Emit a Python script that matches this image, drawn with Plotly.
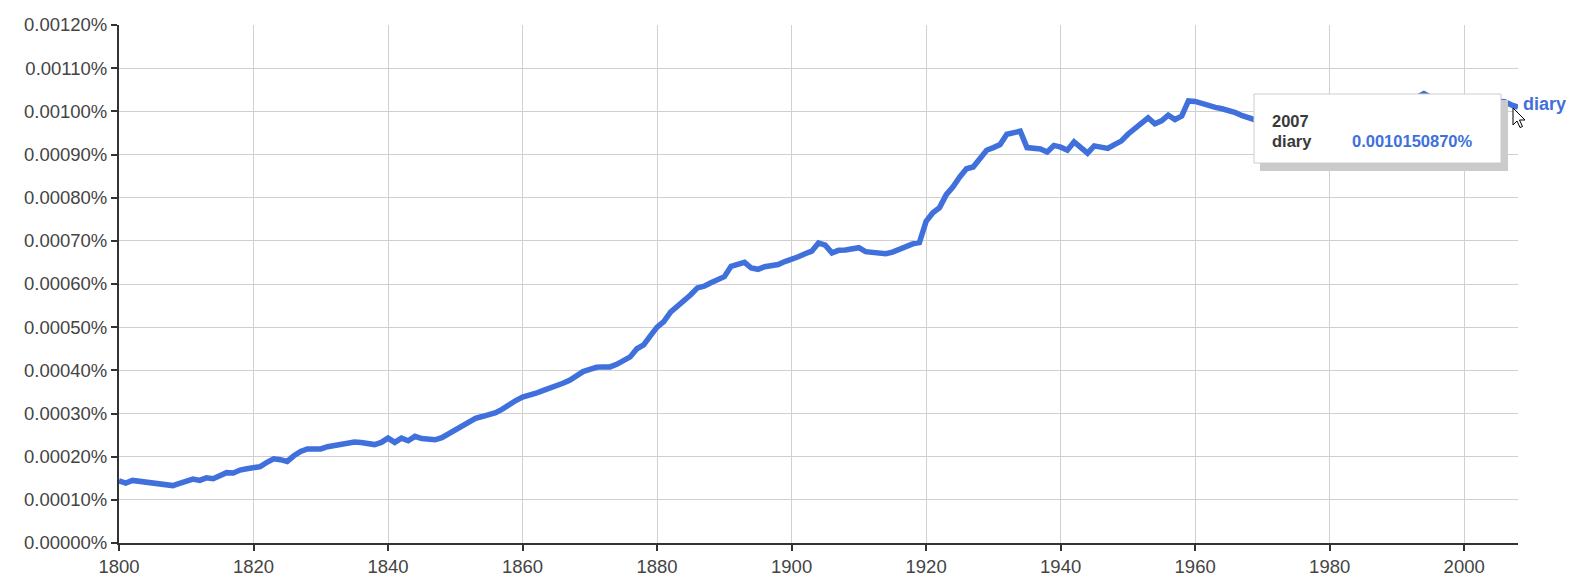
import plotly.graph_objects as go

# ---- data (values in percent) ----
years = list(range(1800, 2009))
u = [  # in units of 0.0001 %
    1.44, 1.39, 1.45, 1.43, 1.40, 1.37, 1.36, 1.35, 1.33, 1.38,   # 1800-1809
    1.44, 1.48, 1.45, 1.51, 1.49, 1.55, 1.63, 1.62, 1.69, 1.72,   # 1810-1819
    1.76, 1.77, 1.87, 1.95, 1.93, 1.89, 2.02, 2.12, 2.18, 2.19,   # 1820-1829
    2.18, 2.23, 2.26, 2.30, 2.32, 2.34, 2.33, 2.29, 2.28, 2.33,   # 1830-1839
    2.43, 2.33, 2.43, 2.37, 2.47, 2.42, 2.40, 2.39, 2.44, 2.53,   # 1840-1849
    2.62, 2.73, 2.82, 2.89, 2.93, 2.97, 3.02, 3.10, 3.22, 3.30,   # 1850-1859
    3.38, 3.41, 3.47, 3.53, 3.58, 3.63, 3.70, 3.77, 3.86, 3.97,   # 1860-1869
    4.02, 4.07, 4.08, 4.08, 4.14, 4.22, 4.31, 4.50, 4.59, 4.80,   # 1870-1879
    5.00, 5.13, 5.35, 5.48, 5.60, 5.75, 5.91, 5.95, 6.03, 6.10,   # 1880-1889
    6.17, 6.41, 6.46, 6.50, 6.37, 6.34, 6.40, 6.43, 6.45, 6.52,   # 1890-1899
    6.56, 6.63, 6.70, 6.76, 6.95, 6.90, 6.72, 6.78, 6.79, 6.80,   # 1900-1909
    6.84, 6.75, 6.73, 6.71, 6.70, 6.74, 6.80, 6.88, 6.93, 6.96,   # 1910-1919
    7.45, 7.65, 7.77, 8.07, 8.25, 8.48, 8.67, 8.71, 8.93, 9.10,   # 1920-1929
    9.16, 9.23, 9.47, 9.52, 9.54, 9.16, 9.14, 9.13, 9.06, 9.21,   # 1930-1939
    9.17, 9.10, 9.29, 9.16, 9.03, 9.20, 9.17, 9.14, 9.23, 9.31,   # 1940-1949
    9.47, 9.60, 9.70, 9.85, 9.71, 9.78, 9.91, 9.81, 9.89, 10.24,  # 1950-1959
    10.23, 10.18, 10.12, 10.09, 10.06, 10.03, 9.97, 9.90, 9.84, 9.80,  # 1960-1969
    9.78, 9.76, 9.74, 9.73, 9.74, 9.76, 9.79, 9.83, 9.87, 9.92,   # 1970-1979
    9.97, 10.02, 10.07, 10.11, 10.15, 10.19, 10.22, 10.25, 10.27, 10.28,  # 1980-1989
    10.29, 10.30, 10.31, 10.33, 10.41, 10.33, 10.31, 10.30, 10.29, 10.28,  # 1990-1999
    10.28, 10.27, 10.27, 10.26, 10.25, 10.24, 10.22, 10.150870, 10.10,    # 2000-2008
]
values = [v * 1e-4 for v in u]
series_name = "diary"
x_ticks = list(range(1800, 2001, 20))
y_ticks = [i * 1e-4 for i in range(0, 13)]

LINE = "#4070DC"
OFF = 8                      # page body margin of the browser
W, H = 1574 - OFF, 578 - OFF
ML, MR, MT, MB = 119 - OFF, 56, 25 - OFF, 35
PW, PH = W - ML - MR, H - MT - MB
X0, Y1 = ML + OFF, H + OFF - MB   # screen pixel of plot left / bottom


def px(xp):
    return (xp - X0) / PW


def py(yp):
    return (Y1 - yp) / PH


fig = go.Figure()
fig.add_trace(go.Scatter(
    x=years, y=values, mode="lines", name=series_name,
    line=dict(color=LINE, width=5.5, shape="linear"),
    hoverinfo="skip",
))

shapes = []
# tooltip shadow
shapes.append(dict(type="rect", xref="paper", yref="paper", layer="above",
                   x0=px(1260), x1=px(1508), y0=py(171), y1=py(100),
                   fillcolor="#cbcbcb", line=dict(width=0)))
# tooltip box
shapes.append(dict(type="rect", xref="paper", yref="paper", layer="above",
                   x0=px(1254), x1=px(1501), y0=py(163), y1=py(94),
                   fillcolor="white", line=dict(color="#cccccc", width=1)))
# mouse cursor
tip = (1513, 108)
pts = [(0, 0), (0, 17), (4, 13), (7, 19.5), (9.5, 18.5), (6.5, 12), (12, 12)]
path = "M " + " L ".join(f"{px(tip[0] + a):.5f},{py(tip[1] + b):.5f}" for a, b in pts) + " Z"
shapes.append(dict(type="path", xref="paper", yref="paper", layer="above",
                   path=path, fillcolor="white", line=dict(color="black", width=1)))

font_tt = dict(family="Liberation Sans, Arial, sans-serif", size=16.5, color="#3a3a3a")
annotations = [
    dict(xref="paper", yref="paper", x=px(1270), y=py(121), xanchor="left", yanchor="middle",
         text="<b>2007</b>", showarrow=False, font=font_tt),
    dict(xref="paper", yref="paper", x=px(1270), y=py(141), xanchor="left", yanchor="middle",
         text=f"<b>{series_name}</b>", showarrow=False, font=font_tt),
    dict(xref="paper", yref="paper", x=px(1350), y=py(141), xanchor="left", yanchor="middle",
         text=f"<b>{values[years.index(2007)]:.10f}%</b>", showarrow=False,
         font=dict(family="Liberation Sans, Arial, sans-serif", size=16.5, color=LINE)),
    dict(x=years[-1], y=values[-1], xref="x", yref="y", xanchor="left", yanchor="middle",
         xshift=3, yshift=3, text=f"<b>{series_name}</b>", showarrow=False,
         font=dict(family="Liberation Sans, Arial, sans-serif", size=18, color=LINE)),
]

axis_common = dict(
    showgrid=True, gridcolor="#d0d0d0", gridwidth=1,
    showline=True, linecolor="#333333", linewidth=2,
    ticks="outside", ticklen=6, tickwidth=2, tickcolor="#333333",
    zeroline=False, automargin=False,
    tickfont=dict(family="Liberation Sans, Arial, sans-serif", size=18.5, color="#444444"),
)

fig.update_layout(
    width=W, height=H,
    margin=dict(l=ML, r=MR, t=MT, b=MB, autoexpand=False),
    paper_bgcolor="white", plot_bgcolor="white",
    showlegend=False,
    xaxis=dict(range=[1800, 2008], tickmode="array", tickvals=x_ticks,
               ticktext=[str(t) for t in x_ticks], **axis_common),
    yaxis=dict(range=[0, 0.0012], tickmode="array", tickvals=y_ticks,
               ticktext=[f"{t:.5f}%" for t in y_ticks], **axis_common),
    shapes=shapes,
    annotations=annotations,
)

fig.write_html("out.html")
